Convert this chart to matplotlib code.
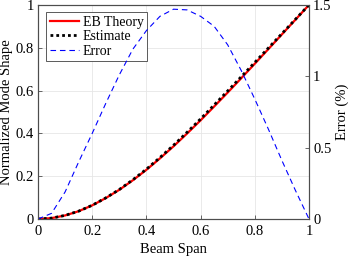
import matplotlib
matplotlib.use("Agg")
import matplotlib.pyplot as plt

# beam span positions and curves
span = [0.00, 0.05, 0.10, 0.15, 0.20, 0.25, 0.30, 0.35, 0.40, 0.45, 0.50,
        0.55, 0.60, 0.65, 0.70, 0.75, 0.80, 0.85, 0.90, 0.95, 1.00]
eb_theory = [0.0000, 0.0043, 0.0168, 0.0366, 0.0639, 0.0979, 0.1365, 0.1812,
             0.2299, 0.2833, 0.3395, 0.3993, 0.4611, 0.5256, 0.5909, 0.6577,
             0.7255, 0.7936, 0.8624, 0.9311, 1.0000]
estimate = [0.0000, 0.0043, 0.0170, 0.0368, 0.0643, 0.0987, 0.1379, 0.1834,
            0.2329, 0.2873, 0.3445, 0.4052, 0.4677, 0.5328, 0.5983, 0.6646,
            0.7316, 0.7987, 0.8658, 0.9329, 1.0000]
error_pct = [0.00, 0.04, 0.19, 0.40, 0.60, 0.81, 1.01, 1.19, 1.32, 1.42, 1.47,
             1.465, 1.42, 1.35, 1.22, 1.04, 0.84, 0.63, 0.41, 0.20, 0.00]

x_ticks = [0, 0.2, 0.4, 0.6, 0.8, 1]
left_ticks = [0, 0.2, 0.4, 0.6, 0.8, 1]
right_ticks = [0, 0.5, 1, 1.5]

plt.rcParams["font.family"] = ["Liberation Serif", "DejaVu Serif"]

AX_COL = "#4d4d4d"

fig = plt.figure(figsize=(3.5, 2.58), dpi=100)
ax = fig.add_axes([0.1086, 0.151, 0.7743, 0.830])
ax2 = ax.twinx()

l_eb, = ax.plot(span, eb_theory, color="#ff0000", lw=1.6, label="EB Theory", zorder=3)
l_est, = ax.plot(span, estimate, color="black", lw=2.0, linestyle=(0, (1, 1.1)),
                 label="Estimate", zorder=4)
l_err, = ax2.plot(span, error_pct, color="#0000ff", lw=0.8, dashes=(5, 3.5),
                  label="Error")

ax.set_xlim(0, 1)
ax.set_ylim(0, 1)
ax2.set_ylim(0, 1.5)
ax.set_xticks(x_ticks)
ax.set_xticklabels(["0", "0.2", "0.4", "0.6", "0.8", "1"])
ax.set_yticks(left_ticks)
ax.set_yticklabels(["0", "0.2", "0.4", "0.6", "0.8", "1"])
ax2.set_yticks(right_ticks)
ax2.set_yticklabels(["0", "0.5", "1", "1.5"])

ax.grid(True, color="#e6e6e6", lw=0.6)
ax.set_axisbelow(True)

for a in (ax, ax2):
    for s in a.spines.values():
        s.set_color(AX_COL)
        s.set_linewidth(0.8)
    a.tick_params(direction="in", length=3, width=0.6, color=AX_COL,
                  labelsize=10.5, pad=3)
ax.tick_params(axis="x", pad=4)
ax.tick_params(top=False, right=False)
ax2.tick_params(left=False)

ax.set_xlabel("Beam Span", fontsize=10.5, labelpad=4)
ax.set_ylabel("Normalized Mode Shape", fontsize=10.5, labelpad=2)
ax2.set_ylabel("Error (%)", fontsize=10.5, labelpad=3)

leg = ax.legend(handles=[l_eb, l_est, l_err], loc="upper left",
                bbox_to_anchor=(0.03, 0.965), fontsize=10, frameon=True,
                fancybox=False, edgecolor="#404040", framealpha=1,
                handlelength=2.1, handletextpad=0.3, borderpad=0.25,
                labelspacing=0.1, borderaxespad=0)
leg.get_frame().set_linewidth(0.6)
leg.set_zorder(10)

fig.savefig("out.png", dpi=100)
